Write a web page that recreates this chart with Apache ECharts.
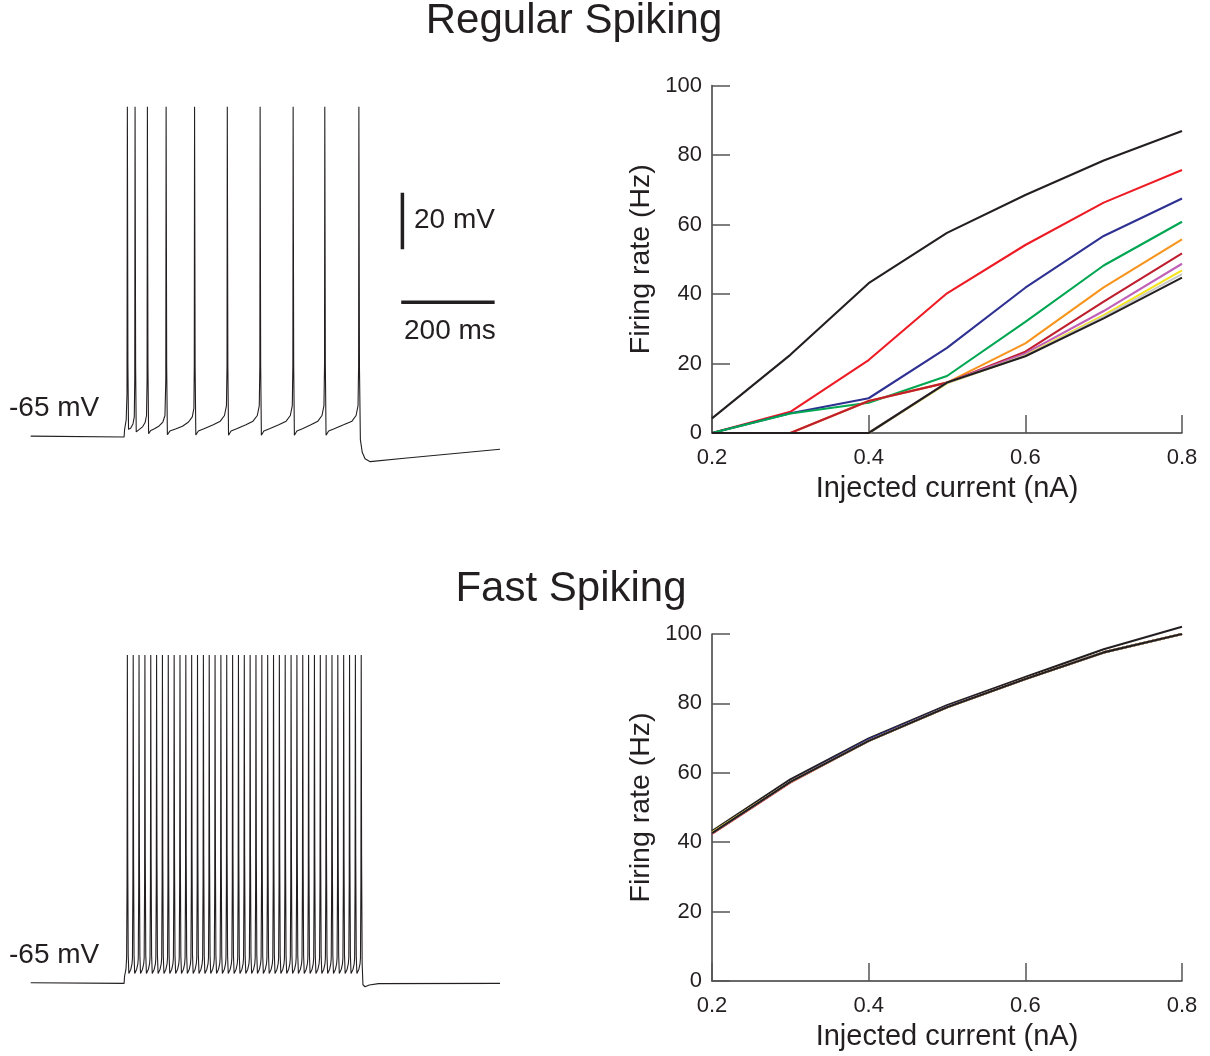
<!DOCTYPE html>
<html>
<head>
<meta charset="utf-8">
<script src="https://cdn.jsdelivr.net/npm/echarts@6/dist/echarts.min.js"></script>
<style>
  html, body { margin: 0; padding: 0; background: #ffffff; }
  #main { width: 1210px; height: 1056px; }
</style>
</head>
<body>
<div id="main"></div>
<script>
// ---- f-I curves: injected current (nA) vs firing rate (Hz) ----
const currents = [0.2, 0.3, 0.4, 0.5, 0.6, 0.7, 0.8];
const rateTicks = [0, 20, 40, 60, 80, 100];

// Regular spiking cell, one curve per parameter setting
const rsRate1  = [4.2, 22.5, 43.1, 57.6, 68.5, 78.4, 86.9];
const rsRate2  = [0, 6.1, 21.0, 40.2, 54.1, 66.3, 75.7];
const rsRate3  = [0, 5.7, 10.0, 24.5, 41.8, 56.7, 67.5];
const rsRate4  = [0, 5.6, 8.7, 16.4, 32.0, 48.2, 60.8];
const rsRate5  = [0, 0, 9.2, 14.5, 25.8, 41.9, 55.7];
const rsRate6  = [0, 0, 9.2, 14.5, 23.4, 37.8, 51.7];
const rsRate7  = [0, 0, 0, 14.5, 22.9, 35.1, 48.7];
const rsRate8  = [0, 0, 0, 14.3, 22.3, 33.9, 46.8];
const rsRate9  = [0, 0, 0, 14.4, 22.2, 33.5, 45.7];
const rsRate10 = [0, 0, 0, 14.5, 22.1, 33.0, 44.7];

// Fast spiking cell
const fsRate1  = [43.2, 58.1, 69.9, 79.5, 87.6, 95.6, 102.1];
const fsRate2  = [42.4, 57.2, 69.2, 78.9, 87.0, 94.7, 100.0];
const fsRate3  = [42.7, 57.5, 69.6, 79.1, 87.1, 94.7, 100.0];
const fsRate4  = [42.6, 57.4, 69.2, 78.9, 87.0, 94.7, 100.0];
const fsRate5  = [42.6, 57.4, 69.2, 78.9, 87.0, 94.7, 100.0];
const fsRate6  = [42.6, 57.4, 69.2, 78.9, 87.0, 94.7, 100.0];
const fsRate7  = [42.6, 57.4, 69.2, 78.9, 87.0, 94.7, 100.0];
const fsRate8  = [42.8, 57.4, 69.2, 78.9, 87.0, 94.7, 100.0];
const fsRate9  = [42.6, 57.4, 69.2, 78.9, 87.0, 94.7, 100.0];
const fsRate10 = [42.6, 57.4, 69.2, 78.9, 87.0, 94.7, 100.0];

const curveColors = ['#231f20', '#ed1c24', '#2e3192', '#00a651', '#f7941d',
                     '#be1e2d', '#c060b8', '#f5e41c', '#c7c8ca', '#231f20'];

// ---- membrane potential traces: [time (ms), V (mV)] ----
// Regular spiking: adapting spike train during a 500 ms current step
const rsTrace = [
  [0, -64.8], [200, -65.1], [201, -62.6], [204.5, -59], [206.2, -50], [207, 51.6],
  [208.2, -40], [209.5, -62.4], [214, -62], [219, -60.5], [221.8, -58], [222.8, -45], [223.5, 51.6],
  [224.7, -40], [226, -63.3], [232, -62.5], [240, -61.4], [245, -60], [248, -57.5], [249.2, -45], [249.9, 51.6],
  [251.1, -40], [252.5, -63.9], [257, -62.8], [265, -62.2], [275, -61.2], [283, -59.8], [287.5, -57.5], [289.3, -45], [290, 51.6],
  [291.2, -40], [292.7, -64.3], [298, -63], [310, -62.3], [325, -61.3], [338, -59.8], [346, -58], [349.5, -55], [350.3, -40], [350.9, 51.6],
  [352.1, -40], [353.6, -64.4], [359, -63], [371, -62.2], [391, -60.8], [406, -59.5], [415, -57.5], [419.2, -54], [420.4, -40], [421.0, 51.6],
  [422.2, -40], [423.7, -64.5], [429, -63], [441, -62.2], [461, -60.8], [476, -59.5], [485.3, -57.5], [489.5, -54], [490.7, -40], [491.3, 51.6],
  [492.5, -40], [494, -64.5], [499.3, -63], [511.3, -62.2], [531.3, -60.8], [547, -59.5], [556, -57.5], [560.2, -54], [561.4, -40], [562.0, 51.6],
  [563.2, -40], [564.7, -64.5], [570, -63], [582, -62.2], [600, -60.8], [615, -59.5], [623.8, -57.5], [628, -54], [629.2, -40], [629.8, 51.6],
  [631, -40], [632.5, -64.5], [638, -63], [650, -62.2], [670, -60.8], [688, -59.5], [696.8, -57.5], [701, -54], [702.2, -40], [702.8, 51.6],
  [704, -40], [706, -66], [710, -70.5], [716, -72.8], [727, -73.8], [800, -72.6], [1005, -69.4]
];

// Fast spiking: spike peak times (ms) and the shape of one action potential
const fsSpikeTimes = [
  207.0, 219.5, 232.0, 244.6, 257.1, 269.6, 282.1, 294.6, 307.2, 319.7,
  332.2, 344.7, 357.2, 369.8, 382.3, 394.8, 407.3, 419.8, 432.4, 444.9,
  457.4, 469.9, 482.4, 495.0, 507.5, 520.0, 532.5, 545.0, 557.6, 570.1,
  582.6, 595.1, 607.6, 620.2, 632.7, 645.2, 657.7, 670.2, 682.8, 695.3, 707.8
];
const fsSpikeShape = [[-1.6, -56], [-0.7, -30], [0, 51], [0.8, -20], [1.8, -55], [3.2, -61.5], [7.5, -60], [10, -58]];
const fsBeforeStep = [[0, -64.8], [200, -65], [201, -62.5], [204, -60]];
const fsAfterStep = [[709.8, -58], [711.5, -65.5], [716, -66.2], [725, -65.6], [745, -65.1], [1005, -65]];

// scale bars (drawn in the regular-spiking trace coordinates)
const barVoltage = [[796, 1.2], [796, 21.2]];      // 20 mV
const barTime = [[793.5, -17.5], [993.5, -17.5]];  // 200 ms

// assemble the fast-spiking trace from spike times and the spike shape
const fsTrace = fsBeforeStep.slice();
fsSpikeTimes.forEach((t, i) => {
  const last = i === fsSpikeTimes.length - 1;
  const shape = last ? fsSpikeShape.slice(0, 4) : fsSpikeShape;
  shape.forEach(p => fsTrace.push([+(t + p[0]).toFixed(2), p[1]]));
});
fsAfterStep.forEach(p => fsTrace.push(p));

const FONT = 'Liberation Sans, Arial, Helvetica, sans-serif';
const INK = '#231f20';

function rateXAxis(gridIndex) {
  return {
    gridIndex, type: 'value', min: 0.2, max: 0.8, interval: 0.2,
    name: 'Injected current (nA)', nameLocation: 'middle', nameGap: 41,
    nameTextStyle: { fontFamily: FONT, fontSize: 29, color: INK },
    axisLine: { show: true, lineStyle: { color: '#3a3a3a', width: 1.5 } },
    axisTick: { show: true, inside: true, length: 18, lineStyle: { color: '#555', width: 1.5 } },
    axisLabel: { fontFamily: FONT, fontSize: 22, color: INK, margin: 14,
                 formatter: v => v.toFixed(1) },
    splitLine: { show: false }
  };
}
function rateYAxis(gridIndex) {
  return {
    gridIndex, type: 'value', min: 0, max: 100, interval: 20,
    name: 'Firing rate (Hz)', nameLocation: 'middle', nameGap: 56,
    nameTextStyle: { fontFamily: FONT, fontSize: 28.5, color: INK },
    axisLine: { show: true, lineStyle: { color: '#3a3a3a', width: 1.5 } },
    axisTick: { show: true, inside: true, length: 18, lineStyle: { color: '#555', width: 1.5 } },
    axisLabel: { fontFamily: FONT, fontSize: 22, color: INK, margin: 10,
                 formatter: v => rateTicks.indexOf(v) >= 0 ? String(v) : '' },
    splitLine: { show: false }
  };
}
function traceAxes(gridIndex) {
  return [
    { gridIndex, type: 'value', min: 0, max: 1005, show: false },
    { gridIndex, type: 'value', min: -80, max: 60, show: false }
  ];
}

function curveSeries(sets, axisIndex) {
  return sets.map((vals, k) => ({
    type: 'line', xAxisIndex: axisIndex, yAxisIndex: axisIndex,
    data: currents.map((c, j) => [c, vals[j]]),
    showSymbol: false, symbol: 'none', silent: true, clip: false,
    lineStyle: { color: curveColors[k], width: 2.1 },
    z: 2 + k
  }));
}
function traceSeries(data, axisIndex, width) {
  return {
    type: 'line', xAxisIndex: axisIndex, yAxisIndex: axisIndex, data,
    showSymbol: false, symbol: 'none', silent: true, sampling: null,
    lineStyle: { color: INK, width: width || 1.1 }
  };
}

function label(text, x, y, size, align) {
  return { type: 'text', x, y, style: { text, font: size + 'px ' + FONT, fill: INK,
           align: align || 'left', verticalAlign: 'middle' } };
}

const rsTraceAx = traceAxes(0), fsTraceAx = traceAxes(2);

const option = {
  animation: false,
  backgroundColor: '#ffffff',
  grid: [
    { left: 30.7, top: 82.9, width: 469.3, height: 396.3 },
    { left: 712, top: 85.5, width: 470, height: 347.5 },
    { left: 30.7, top: 629.5, width: 469.3, height: 396.3 },
    { left: 712, top: 634, width: 470, height: 347 }
  ],
  xAxis: [rsTraceAx[0], rateXAxis(1), fsTraceAx[0], rateXAxis(3)],
  yAxis: [rsTraceAx[1], rateYAxis(1), fsTraceAx[1], rateYAxis(3)],
  series: [
    traceSeries(rsTrace, 0),
    traceSeries(barVoltage, 0, 3.5),
    traceSeries(barTime, 0, 3.5),
    ...curveSeries([rsRate1, rsRate2, rsRate3, rsRate4, rsRate5, rsRate6, rsRate7, rsRate8, rsRate9, rsRate10], 1),
    traceSeries(fsTrace, 2),
    ...curveSeries([fsRate1, fsRate2, fsRate3, fsRate4, fsRate5, fsRate6, fsRate7, fsRate8, fsRate9, fsRate10], 3)
  ],
  graphic: [
    label('Regular Spiking', 574, 21, 42, 'center'),
    label('Fast Spiking', 571, 589, 42, 'center'),
    label('-65 mV', 9, 408, 28),
    label('-65 mV', 9, 955, 28),
    label('20 mV', 414, 220, 28),
    label('200 ms', 404, 331, 28)
  ]
};

const chart = echarts.init(document.getElementById('main'), null, { renderer: 'canvas' });
chart.setOption(option);
</script>
</body>
</html>
